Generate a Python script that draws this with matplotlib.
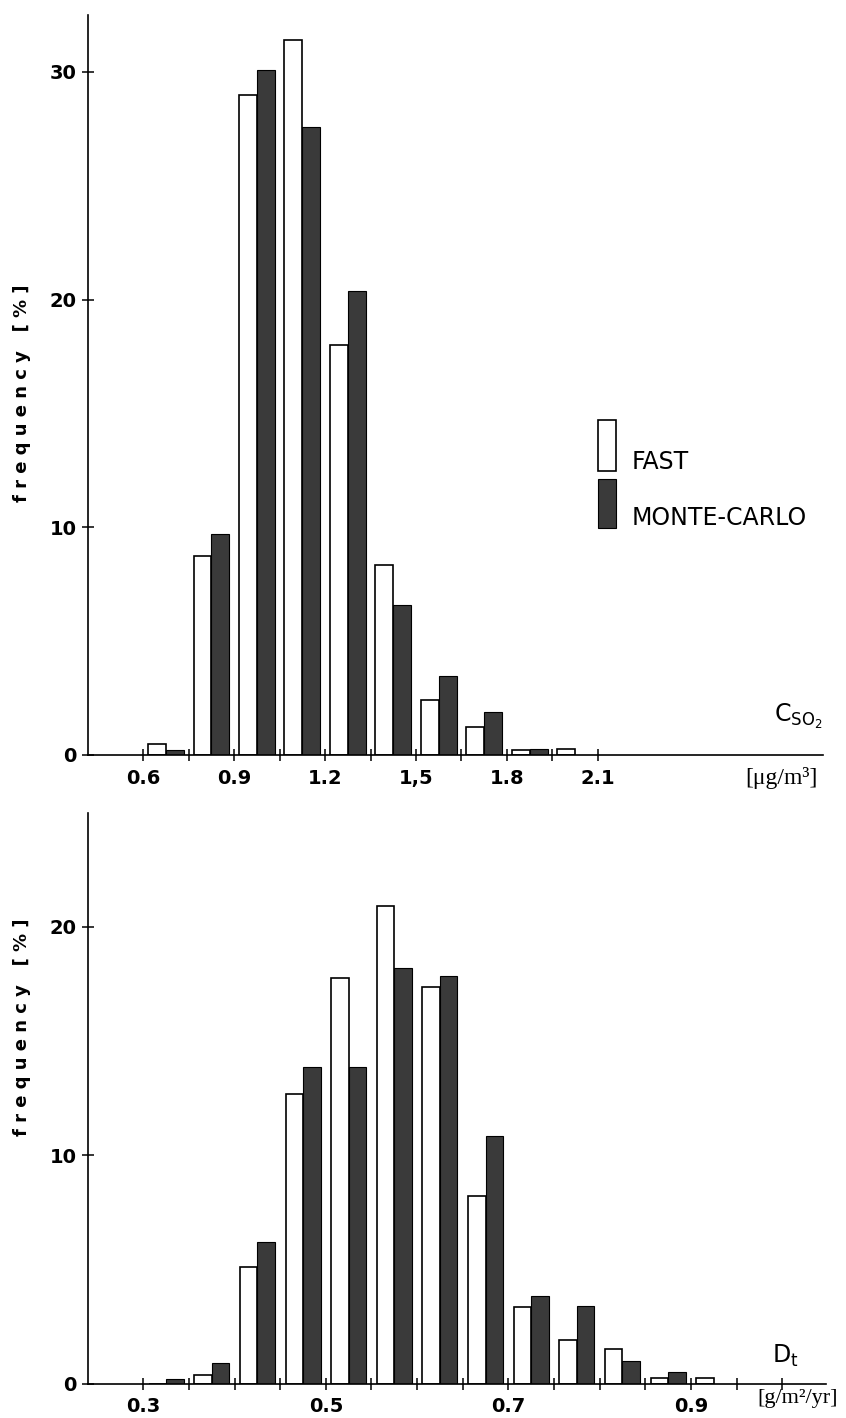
import numpy as np
import matplotlib
matplotlib.use("Agg")
import matplotlib.pyplot as plt
from matplotlib.patches import Rectangle

# SO2 concentration histogram, bins of 0.15 ug/m3 (left edges)
conc_bins = [0.60, 0.75, 0.90, 1.05, 1.20, 1.35, 1.50, 1.65, 1.80, 1.95]
conc_fast = [0.5, 8.75, 29.0, 31.4, 18.0, 8.35, 2.4, 1.25, 0.22, 0.25]
conc_mc = [0.23, 9.7, 30.1, 27.6, 20.4, 6.6, 3.45, 1.9, 0.28, 0.0]
conc_ticks = [0.60, 0.75, 0.90, 1.05, 1.20, 1.35, 1.50, 1.65, 1.80, 1.95, 2.10]
conc_ticklabels = ['0.6', '', '0.9', '', '1.2', '', '1,5', '', '1.8', '', '2.1']

# deposition histogram, bins of 0.05 g/m2/yr (left edges)
dep_bins = [0.30, 0.35, 0.40, 0.45, 0.50, 0.55, 0.60, 0.65, 0.70, 0.75, 0.80, 0.85, 0.90]
dep_fast = [0.0, 0.37, 5.12, 12.67, 17.75, 20.9, 17.38, 8.23, 3.36, 1.9, 1.51, 0.23, 0.25]
dep_mc = [0.18, 0.88, 6.21, 13.85, 13.85, 18.19, 17.85, 10.86, 3.85, 3.41, 1.0, 0.51, 0.0]
dep_ticks = [0.30, 0.35, 0.40, 0.45, 0.50, 0.55, 0.60, 0.65, 0.70, 0.75, 0.80, 0.85, 0.90, 0.95, 1.00]
dep_ticklabels = ['0.3', '', '', '', '0.5', '', '', '', '0.7', '', '', '', '0.9', '', '']

dark = '#3a3a3a'
W, H = 846, 1418

fig = plt.figure(figsize=(W / 100, H / 100), dpi=100)
fig.patch.set_facecolor('white')


def px(x0, y0, x1, y1):
    # pixel box -> figure fraction [left, bottom, width, height]
    return [x0 / W, 1 - y1 / H, (x1 - x0) / W, (y1 - y0) / H]


def style_axes(ax, yticks):
    for s in ['top', 'right']:
        ax.spines[s].set_visible(False)
    for s in ['left', 'bottom']:
        ax.spines[s].set_linewidth(1.2)
    ax.set_yticks(yticks)
    ax.set_yticklabels([str(t) for t in yticks])
    ax.tick_params(axis='both', direction='inout', length=8, width=1.1,
                   labelsize=14, pad=4)
    ax.tick_params(axis='x', pad=6)
    for lab in ax.get_xticklabels() + ax.get_yticklabels():
        lab.set_fontweight('bold')


def draw_pairs(ax, bins, fast, mc, binw, barw):
    centers = np.array(bins) + binw / 2
    ax.bar(centers - barw / 2, fast, width=barw, color='white',
           edgecolor='black', linewidth=1.2)
    ax.bar(centers + barw / 2, mc, width=barw, color=dark,
           edgecolor='black', linewidth=0.8)


# top panel
ax1 = fig.add_axes(px(88, 15, 823, 755))
draw_pairs(ax1, conc_bins, conc_fast, conc_mc, 0.15, 0.059)
ax1.set_xlim(0.4176, 2.843)
ax1.set_ylim(0, 32.5)
ax1.set_xticks(conc_ticks)
ax1.set_xticklabels(conc_ticklabels)
style_axes(ax1, [0, 10, 20, 30])

# bottom panel
ax2 = fig.add_axes(px(88, 812.7, 826, 1383.5))
draw_pairs(ax2, dep_bins, dep_fast, dep_mc, 0.05, 0.0192)
ax2.set_xlim(0.2394, 1.048)
ax2.set_ylim(0, 25)
ax2.set_xticks(dep_ticks)
ax2.set_xticklabels(dep_ticklabels)
style_axes(ax2, [0, 10, 20])

# y labels
ylab = 'f r e q u e n c y   [ % ]'
fig.text(21.7 / W, 1 - 393 / H, ylab, rotation=90, ha='center', va='center',
         fontsize=13, fontweight='bold')
fig.text(21.7 / W, 1 - 1027 / H, ylab, rotation=90, ha='center', va='center',
         fontsize=13, fontweight='bold')

# legend drawn by hand
fig.add_artist(Rectangle((598 / W, 1 - 471 / H), 18 / W, 51 / H,
                         transform=fig.transFigure, facecolor='white',
                         edgecolor='black', linewidth=1.2))
fig.add_artist(Rectangle((598 / W, 1 - 528 / H), 18 / W, 49 / H,
                         transform=fig.transFigure, facecolor=dark,
                         edgecolor='black', linewidth=0.8))
fig.text(632 / W, 1 - 462 / H, 'FAST', ha='left', va='center', fontsize=17)
fig.text(632 / W, 1 - 518 / H, 'MONTE-CARLO', ha='left', va='center', fontsize=17)

# variable names and units
fig.text(798 / W, 1 - 716 / H, r'$\mathsf{C_{SO_2}}$', ha='center', va='center',
         fontsize=17)
fig.text(781 / W, 1 - 778 / H, '[μg/m³]', ha='center', va='center',
         fontsize=17, family='Liberation Serif')
fig.text(785 / W, 1 - 1356 / H, r'$\mathsf{D_t}$', ha='center', va='center',
         fontsize=17)
fig.text(798 / W, 1 - 1398 / H, '[g/m²/yr]', ha='center', va='center',
         fontsize=16, family='Liberation Serif')

fig.savefig('out.png', dpi=100, facecolor='white')
